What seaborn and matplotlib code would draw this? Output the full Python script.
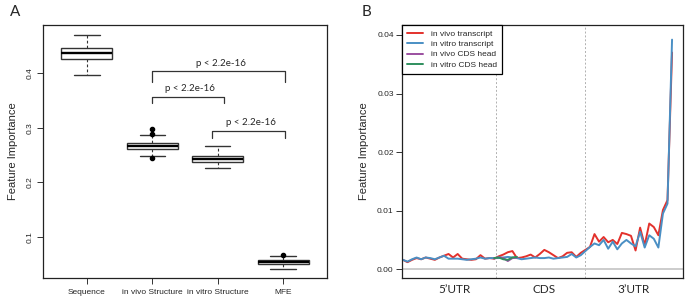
#%% tools
import matplotlib
matplotlib.use('Agg')
import matplotlib.pyplot as plt
import numpy as np
import pandas as pd
import seaborn as sb

#%% panel A values
box_names = ['Sequence', 'in vivo Structure', 'in vitro Structure', 'MFE']
box_whislo = [0.396, 0.249, 0.226, 0.041]
box_q1 = [0.426, 0.261, 0.237, 0.051]
box_med = [0.437, 0.266, 0.242, 0.054]
box_q3 = [0.446, 0.272, 0.249, 0.058]
box_whishi = [0.470, 0.287, 0.266, 0.066]
box_fliers = [[], [0.298, 0.289, 0.245], [], [0.068]]

# significance brackets: (left x, right x, y, leg bottom)
brackets = [(1.0, 3.03, 0.403, 0.384), (1.0, 2.1, 0.356, 0.345), (1.92, 3.03, 0.294, 0.281)]
p_label = 'p < 2.2e-16'

#%% panel B values (feature importance along the transcript)
pos = list(range(1, 61))
in_vivo_tx = [0.0016, 0.0012, 0.0016, 0.0019, 0.0017, 0.0020, 0.0018, 0.0016, 0.0020, 0.0023,
              0.0026, 0.0020, 0.0026, 0.0018, 0.0017, 0.0016, 0.0017, 0.0024, 0.0018, 0.0019,
              0.0018, 0.0022, 0.0025, 0.0029, 0.0031, 0.0019, 0.0020, 0.0022, 0.0025, 0.0020,
              0.0026, 0.0033, 0.0029, 0.0024, 0.0019, 0.0022, 0.0028, 0.0029, 0.0021, 0.0028,
              0.0033, 0.0038, 0.0060, 0.0047, 0.0055, 0.0046, 0.0050, 0.0043, 0.0062, 0.0060,
              0.0057, 0.0032, 0.0071, 0.0041, 0.0078, 0.0072, 0.0058, 0.0101, 0.0118, 0.0370]
in_vitro_tx = [0.0016, 0.0013, 0.0017, 0.0020, 0.0017, 0.0020, 0.0019, 0.0017, 0.0020, 0.0023,
               0.0018, 0.0018, 0.0018, 0.0017, 0.0016, 0.0017, 0.0018, 0.0020, 0.0018, 0.0019,
               0.0019, 0.0019, 0.0020, 0.0021, 0.0020, 0.0019, 0.0017, 0.0018, 0.0019, 0.0020,
               0.0019, 0.0019, 0.0020, 0.0018, 0.0019, 0.0020, 0.0021, 0.0026, 0.0020, 0.0024,
               0.0031, 0.0038, 0.0044, 0.0041, 0.0050, 0.0035, 0.0047, 0.0034, 0.0044, 0.0050,
               0.0044, 0.0039, 0.0064, 0.0037, 0.0058, 0.0052, 0.0037, 0.0095, 0.0112, 0.0392]
cds_pos = [21, 22, 23, 24, 25, 26]
in_vivo_cds = [0.0018, 0.0021, 0.0019, 0.0014, 0.0019, 0.0020]
in_vitro_cds = [0.0019, 0.0020, 0.0017, 0.0016, 0.0020, 0.0021]

region_labels = ['5\u2019UTR', 'CDS', '3\u2019UTR']
region_centers = [12.4, 32.0, 51.6]
region_bounds = [21.5, 40.9]

series_names = ['in vivo transcript', 'in vitro transcript', 'in vivo CDS head', 'in vitro CDS head']
series_colors = ['#e3312c', '#4a8fc4', '#9b4fa0', '#2f8f5e']

#%% build long table for seaborn
df_line = {'position': [], 'Feature Importance': [], 'series': []}
for name, xs, ys in zip(series_names, [pos, pos, cds_pos, cds_pos],
                        [in_vivo_tx, in_vitro_tx, in_vivo_cds, in_vitro_cds]):
    df_line['position'].extend(xs)
    df_line['Feature Importance'].extend(ys)
    df_line['series'].extend([name] * len(xs))
df_line = pd.DataFrame.from_dict(df_line)

#%% figure
sb.set_style('ticks')
plt.rcParams['font.family'] = ['Liberation Sans', 'DejaVu Sans']

fig = plt.figure(figsize=(6.85, 2.98), dpi=100)
axA = fig.add_axes([43 / 685, 20 / 298, 284 / 685, 253 / 298])
axB = fig.add_axes([402 / 685, 20 / 298, 281 / 685, 253 / 298])

#%% panel A
stats = []
for i, name in enumerate(box_names):
    stats.append({'label': name, 'whislo': box_whislo[i], 'q1': box_q1[i], 'med': box_med[i],
                  'q3': box_q3[i], 'whishi': box_whishi[i], 'fliers': box_fliers[i]})
axA.bxp(stats, positions=range(len(box_names)), widths=0.78, patch_artist=True,
        boxprops=dict(facecolor='white', edgecolor='#333333', linewidth=1.0),
        medianprops=dict(color='black', linewidth=1.7),
        whiskerprops=dict(color='#333333', linestyle=(0, (2.5, 2)), linewidth=0.8),
        capprops=dict(color='#333333', linewidth=1.0),
        flierprops=dict(marker='o', markerfacecolor='black', markeredgecolor='black', markersize=3))
axA.set_xlim(-0.67, 3.67)
axA.set_ylim(0.025, 0.488)
axA.set_yticks([0.1, 0.2, 0.3, 0.4])
axA.set_yticklabels(['0.1', '0.2', '0.3', '0.4'], rotation=90, va='center', fontsize=6)
axA.set_xticks(range(len(box_names)))
axA.set_xticklabels(box_names, fontsize=6)
axA.tick_params(axis='both', length=4, width=0.7, color='#333333', pad=3)
axA.tick_params(axis='x', pad=4)
axA.set_ylabel('Feature Importance', fontsize=8, labelpad=6)
for sp in axA.spines.values():
    sp.set_visible(True)
    sp.set_linewidth(0.9)
    sp.set_color('#222222')
for x0, x1, y, yb in brackets:
    axA.plot([x0, x0, x1, x1], [yb, y, y, yb], color='#333333', lw=0.9)
    axA.text((x0 + x1) / 2 + 0.03, y + 0.007, p_label, ha='center', va='bottom', fontsize=7,
             family=['Lato', 'DejaVu Sans'])

#%% panel B
for xb in region_bounds:
    axB.axvline(xb, color='#b0b0b0', lw=0.7, ls=(0, (2, 2)), zorder=0)
axB.axhline(0, color='#c8c8c8', lw=1.3, zorder=0)
sb.lineplot(data=df_line, x='position', y='Feature Importance', hue='series',
            hue_order=series_names, palette=series_colors, estimator=None, lw=1.4, ax=axB)
axB.set_xlim(0.8, 62.4)
axB.set_ylim(-0.0015, 0.0417)
axB.set_yticks([0.0, 0.01, 0.02, 0.03, 0.04])
axB.set_yticklabels(['0.00', '0.01', '0.02', '0.03', '0.04'], fontsize=6)
axB.set_xticks(region_centers)
axB.set_xticklabels(region_labels, fontsize=8.5, family=['Lato', 'DejaVu Sans'])
axB.tick_params(axis='x', length=0, pad=4)
axB.tick_params(axis='y', length=4, width=0.7, color='#333333', pad=2)
axB.set_xlabel('')
axB.set_ylabel('Feature Importance', fontsize=8, labelpad=6)
for sp in axB.spines.values():
    sp.set_visible(True)
    sp.set_linewidth(0.9)
    sp.set_color('#222222')
leg = axB.legend(loc='upper left', borderaxespad=0, fontsize=6, handlelength=1.9,
                 handletextpad=1.0, labelspacing=0.3, borderpad=0.6, fancybox=False, framealpha=1)
leg.get_frame().set_edgecolor('black')
leg.get_frame().set_linewidth(0.9)

fig.text(10 / 685, 1 - 12 / 298, 'A', fontsize=11, va='center', family=['Lato', 'DejaVu Sans'])
fig.text(362 / 685, 1 - 12 / 298, 'B', fontsize=11, va='center', family=['Lato', 'DejaVu Sans'])

plt.savefig('out.png', dpi=100)
